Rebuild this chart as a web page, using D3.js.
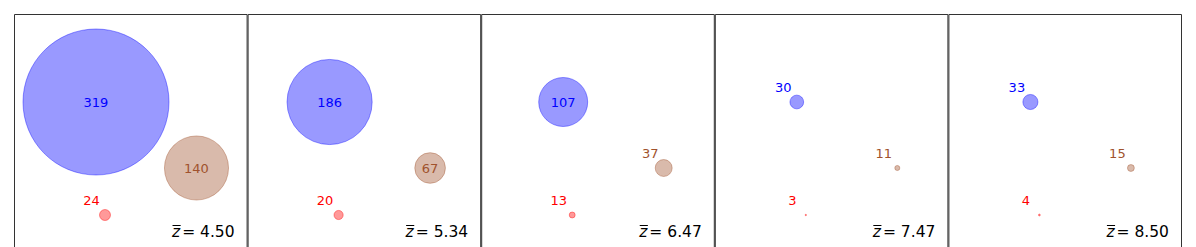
<!DOCTYPE html>
<html><head><meta charset="utf-8">
<script src="https://cdn.jsdelivr.net/npm/d3@7"></script>
<style>body{margin:0;background:#fff}svg{display:block}text{font-family:"DejaVu Sans",sans-serif}</style>
</head><body><svg id="c" width="1196" height="247"></svg>
<script>
const zbarLabels = ["4.50", "5.34", "6.47", "7.47", "8.50"];
const categories = ["blue", "sienna", "red"];
const blueValues = [319, 186, 107, 30, 33];
const siennaValues = [140, 67, 37, 11, 15];
const redValues = [24, 20, 13, 3, 4];

(function () {
const seriesValues = [blueValues, siennaValues, redValues];
const fillColors = {blue: "#0000ff", sienna: "#a0522d", red: "#ff0000"};
// layout (panel-relative anchor for each category, in px)
const anchor = {blue: [82, 102], sienna: [182.5, 168], red: [91, 215]};

const svg = d3.select("#c");
const frameLeft = 14, frameRight = 1182, frameTop = 14, frameBottom = 262;
const panelX = d3.scaleBand().domain(d3.range(zbarLabels.length)).range([frameLeft, frameRight]).padding(0);
const r = d3.scaleLinear().domain([0, 319]).range([0, 73]);

zbarLabels.forEach((zl, i) => {
  const g = svg.append("g").attr("transform", `translate(${panelX(i)},0)`);
  const w = panelX.bandwidth();
  categories.forEach((cat, k) => {
    const v = seriesValues[k][i];
    const [cx, cy] = anchor[cat];
    const rad = r(v);
    g.append("circle").attr("cx", cx).attr("cy", cy).attr("r", rad)
      .attr("fill", fillColors[cat]).attr("fill-opacity", 0.4)
      .attr("stroke", fillColors[cat]).attr("stroke-opacity", 0.4).attr("stroke-width", 1);
    const inside = rad > 12;
    g.append("text")
      .attr("x", inside ? cx : cx - 13.5)
      .attr("y", inside ? cy : cy - 14.5)
      .attr("dy", "0.35em")
      .attr("text-anchor", "middle")
      .attr("font-size", 13)
      .attr("fill", fillColors[cat])
      .text(v);
  });
  // z-bar label
  const t = g.append("text").attr("x", w - 13).attr("y", 237).attr("text-anchor", "end")
    .attr("font-size", 15.5).attr("fill", "#000").text("= " + zl);
  const tw = t.node().getComputedTextLength();
  const zx = w - 13 - tw - 2;
  const zt = g.append("text").attr("x", zx).attr("y", 237).attr("text-anchor", "end")
    .attr("font-size", 15.5).attr("font-style", "italic").attr("fill", "#000").text("z");
  const zw = zt.node().getComputedTextLength();
  g.append("line").attr("x1", zx - zw + 0.5).attr("x2", zx + 0.5).attr("y1", 225.5).attr("y2", 225.5)
    .attr("stroke", "#000").attr("stroke-width", 1);
  // frame
  g.append("path").attr("d", `M0.5,${frameBottom}V${frameTop + 0.5}H${w - 0.5}V${frameBottom}`)
    .attr("fill", "none").attr("stroke", "#333").attr("stroke-width", 1);
});
})();
</script></body></html>
